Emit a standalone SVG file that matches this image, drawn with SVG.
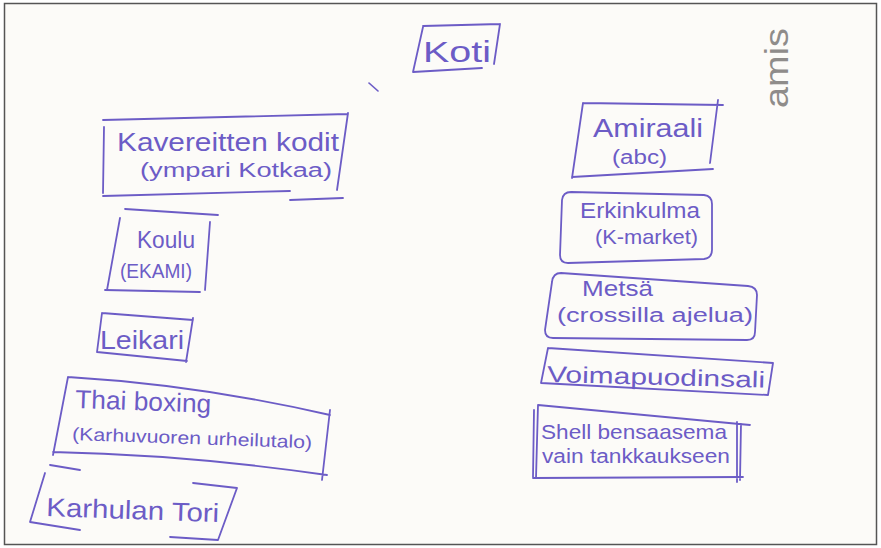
<svg xmlns="http://www.w3.org/2000/svg" width="881" height="548" viewBox="0 0 881 548">
<style>
.box{fill:none;stroke:#6c5cc6;stroke-width:1.8;stroke-linecap:round;stroke-linejoin:round}
.t{font-family:"Liberation Sans",Arial,sans-serif;fill:#6c5cc6}
.pen{fill:none;stroke:#6c5cc6;stroke-width:1.6;stroke-linecap:round}
</style>
<rect x="0" y="0" width="881" height="548" fill="#ffffff"/>
<rect x="4.5" y="3.5" width="872" height="541" fill="#fcfbf8" stroke="#555" stroke-width="1.5"/>

<g id="koti">
<path class="box" d="M423,26 L500,24 M423,27 L413,72 M413,72 L482,68 M500,24 L494,64"/>
<text class="t" x="423" y="62" font-size="30" textLength="68" lengthAdjust="spacingAndGlyphs">Koti</text>
</g>

<path class="pen" d="M369,83 L378,91"/>

<g id="simo">
<text class="t" transform="translate(788,108) rotate(-90)" font-size="34" style="fill:#8f8c8a" textLength="80" lengthAdjust="spacingAndGlyphs">amis</text>
</g>

<g id="kavereitten">
<path class="box" d="M103,120 L348,114 M104,127 L103,193 M103,196 L290,191 M290,200 L343,198 M348,113 L337,190"/>
<text class="t" x="117" y="151" font-size="26" textLength="222" lengthAdjust="spacingAndGlyphs">Kavereitten kodit</text>
<text class="t" x="140" y="177" font-size="20" textLength="192" lengthAdjust="spacingAndGlyphs">(ympari Kotkaa)</text>
</g>

<g id="koulu">
<path class="box" d="M125,209 L218,215 M120,218 L107,290 M105,290 L200,292 M210,222 L205,290"/>
<text class="t" x="137" y="248" font-size="24" textLength="58" lengthAdjust="spacingAndGlyphs">Koulu</text>
<text class="t" x="120" y="278" font-size="20" textLength="72" lengthAdjust="spacingAndGlyphs">(EKAMI)</text>
</g>

<g id="leikari">
<path class="box" d="M102,313 L193,320 M102,313 L97,352 M97,352 L187,361 M193,318 L186,362"/>
<text class="t" x="100" y="349" font-size="26" textLength="84" lengthAdjust="spacingAndGlyphs">Leikari</text>
</g>

<g id="thai">
<path class="box" d="M68,377 Q200,385 330,415 M68,377 L53,455 M53,452 Q190,455 327,475 M330,410 L322,480"/>
<text class="t" x="75" y="408" font-size="26" textLength="136" lengthAdjust="spacingAndGlyphs" transform="rotate(2 75 408)">Thai boxing</text>
<text class="t" x="72" y="440" font-size="18" textLength="240" lengthAdjust="spacingAndGlyphs" transform="rotate(2 72 440)">(Karhuvuoren urheilutalo)</text>
</g>

<g id="karhulan">
<path class="box" d="M50,465 L80,470 M193,483 L237,488 M45,473 L30,522 M30,522 L80,530 M170,537 L218,540 M237,488 L218,540"/>
<text class="t" x="46" y="516" font-size="26" textLength="173" lengthAdjust="spacingAndGlyphs" transform="rotate(2 46 516)">Karhulan Tori</text>
</g>

<g id="amiraali">
<path class="box" d="M583,103 L723,105 M583,103 L572,178 M572,177 L713,169 M718,100 L710,163"/>
<text class="t" x="593" y="137" font-size="26" textLength="110" lengthAdjust="spacingAndGlyphs">Amiraali</text>
<text class="t" x="612" y="164" font-size="20" textLength="55" lengthAdjust="spacingAndGlyphs">(abc)</text>
</g>

<g id="erkinkulma">
<path class="box" d="M571,192 L704,195 Q712,196 712,204 L712,250 Q712,258 704,259 L568,263 Q560,263 560,255 L562,200 Q563,192 571,192 Z"/>
<text class="t" x="580" y="218" font-size="22" textLength="120" lengthAdjust="spacingAndGlyphs">Erkinkulma</text>
<text class="t" x="595" y="244" font-size="21" textLength="103" lengthAdjust="spacingAndGlyphs">(K-market)</text>
</g>

<g id="metsa">
<path class="box" d="M561,273 L748,286 Q757,287 757,295 L755,332 Q755,340 747,340 L553,338 Q545,338 545,330 L552,282 Q553,273 561,273 Z"/>
<text class="t" x="582" y="296" font-size="22" textLength="71" lengthAdjust="spacingAndGlyphs">Metsä</text>
<text class="t" x="557" y="322" font-size="20" textLength="196" lengthAdjust="spacingAndGlyphs">(crossilla ajelua)</text>
</g>

<g id="voimapuodinsali">
<path class="box" d="M548,348 L773,363 M548,348 L541,383 M541,383 L768,395 M773,363 L768,395"/>
<text class="t" x="547" y="382" font-size="23" textLength="218" lengthAdjust="spacingAndGlyphs" transform="rotate(1.5 547 382)">Voimapuodinsali</text>
</g>

<g id="shell">
<path class="box" d="M538,405 L750,425 M538,405 L536,478 M534,410 L533,477 M533,478 L743,477 M737,422 L737,482 M741,424 L740,480"/>
<text class="t" x="541" y="439" font-size="21" textLength="186" lengthAdjust="spacingAndGlyphs">Shell bensaasema</text>
<text class="t" x="542" y="463" font-size="20" textLength="188" lengthAdjust="spacingAndGlyphs">vain tankkaukseen</text>
</g>

<g id="connectors"></g>
</svg>
